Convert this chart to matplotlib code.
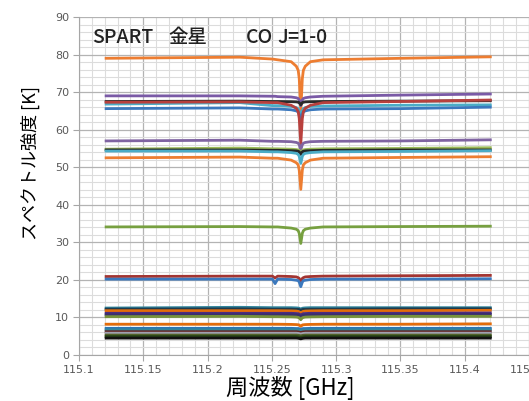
import matplotlib
matplotlib.use("Agg")
import matplotlib.pyplot as plt
from matplotlib.ticker import MultipleLocator

plt.rcParams['font.family'] = ['Noto Sans CJK JP', 'DejaVu Sans']

# frequency sample points [GHz]
freq = [115.120, 115.225, 115.2505, 115.2525, 115.2545, 115.265, 115.269, 115.2705, 115.2713,
        115.2725, 115.2737, 115.2745, 115.276, 115.280, 115.290, 115.350, 115.421]

# spectra [K] at the points above
orange_79 = [79.0, 79.3, 78.8, 78.7, 78.6, 78.1, 76.9, 75.8, 73.6, 64.9, 73.6, 75.8, 76.9, 78.1, 78.6, 79.0, 79.4]
purple_69 = [69.0, 69.0, 68.9, 68.9, 68.8, 68.7, 68.5, 68.3, 67.9, 66.4, 67.9, 68.3, 68.5, 68.7, 68.9, 69.2, 69.5]
black_68 = [67.5, 67.6, 67.5, 67.5, 67.5, 67.45, 67.4, 67.3, 67.2, 66.6, 67.2, 67.3, 67.4, 67.45, 67.5, 67.6, 67.7]
red_67 = [67.3, 67.4, 67.2, 67.2, 67.2, 66.5, 65.7, 64.8, 63.0, 56.2, 63.0, 64.8, 65.7, 66.5, 67.2, 67.5, 67.9]
cyan_67 = [66.8, 67.2, 66.4, 66.4, 66.4, 66.2, 65.9, 65.6, 65.0, 62.8, 65.0, 65.6, 65.9, 66.2, 66.3, 66.5, 66.6]
blue_66 = [65.6, 65.8, 65.5, 65.5, 65.5, 65.3, 65.0, 64.7, 64.1, 61.7, 64.1, 64.7, 65.0, 65.3, 65.5, 65.6, 66.0]
purple_57 = [57.0, 57.2, 56.9, 56.9, 56.9, 56.8, 56.6, 56.4, 56.0, 54.6, 56.0, 56.4, 56.6, 56.8, 56.9, 57.0, 57.3]
green_55 = [54.8, 55.1, 54.9, 54.9, 54.9, 54.8, 54.7, 54.6, 54.4, 53.7, 54.4, 54.6, 54.7, 54.8, 54.9, 55.0, 55.2]
black_55 = [54.6, 54.6, 54.5, 54.5, 54.5, 54.4, 54.35, 54.25, 54.1, 53.4, 54.1, 54.25, 54.35, 54.4, 54.5, 54.6, 54.6]
cyan_54 = [54.3, 54.3, 54.1, 54.1, 54.1, 53.9, 53.7, 53.4, 52.9, 51.0, 52.9, 53.4, 53.7, 53.9, 54.1, 54.2, 54.4]
orange_53 = [52.5, 52.7, 52.4, 52.4, 52.4, 51.9, 51.2, 50.6, 49.2, 44.1, 49.2, 50.6, 51.2, 51.9, 52.4, 52.6, 52.8]
olive_34 = [34.1, 34.2, 34.1, 34.1, 34.1, 33.8, 33.5, 33.1, 32.4, 29.7, 32.4, 33.1, 33.5, 33.8, 34.1, 34.2, 34.3]
red_21 = [20.9, 21.0, 21.0, 20.5, 21.0, 20.9, 20.8, 20.6, 20.4, 19.3, 20.4, 20.6, 20.8, 20.9, 21.0, 21.1, 21.2]
blue_20 = [20.2, 20.2, 20.2, 19.0, 20.2, 20.1, 19.9, 19.8, 19.4, 18.2, 19.4, 19.8, 19.9, 20.1, 20.2, 20.2, 20.3]
teal_13 = [12.5, 12.7, 12.6, 12.6, 12.6, 12.6, 12.55, 12.5, 12.45, 12.2, 12.45, 12.5, 12.55, 12.6, 12.6, 12.6, 12.6]
dark_12 = [12.2, 12.3, 12.2, 12.2, 12.2, 12.2, 12.15, 12.15, 12.1, 11.9, 12.1, 12.15, 12.15, 12.2, 12.2, 12.3, 12.3]
orange_12 = [11.8, 11.8, 11.8, 11.8, 11.8, 11.75, 11.7, 11.6, 11.5, 10.9, 11.5, 11.6, 11.7, 11.75, 11.8, 11.8, 11.9]
purple_11 = [11.1, 11.1, 11.1, 11.1, 11.1, 11.1, 11.05, 11.0, 10.9, 10.6, 10.9, 11.0, 11.05, 11.1, 11.1, 11.1, 11.2]
navy_11 = [10.7, 10.7, 10.7, 10.7, 10.7, 10.7, 10.65, 10.6, 10.5, 10.2, 10.5, 10.6, 10.65, 10.7, 10.7, 10.7, 10.8]
green_10 = [10.2, 10.3, 10.2, 10.2, 10.2, 10.15, 10.1, 10.0, 9.9, 9.4, 9.9, 10.0, 10.1, 10.15, 10.2, 10.3, 10.3]
orange_8 = [8.2, 8.2, 8.2, 8.2, 8.2, 8.15, 8.1, 8.05, 8.0, 7.6, 8.0, 8.05, 8.1, 8.15, 8.2, 8.2, 8.3]
blue_7 = [7.1, 7.1, 7.1, 7.1, 7.1, 7.1, 7.05, 7.05, 7.0, 6.8, 7.0, 7.05, 7.05, 7.1, 7.1, 7.1, 7.1]
teal_7 = [6.7, 6.7, 6.7, 6.7, 6.7, 6.7, 6.7, 6.65, 6.6, 6.4, 6.6, 6.65, 6.7, 6.7, 6.7, 6.7, 6.7]
brown_6 = [6.2, 6.2, 6.2, 6.2, 6.2, 6.2, 6.2, 6.15, 6.1, 6.0, 6.1, 6.15, 6.2, 6.2, 6.2, 6.2, 6.2]
gray_6 = [5.8, 5.8, 5.8, 5.8, 5.8, 5.8, 5.8, 5.75, 5.7, 5.6, 5.7, 5.75, 5.8, 5.8, 5.8, 5.8, 5.8]
green_5 = [5.3, 5.3, 5.3, 5.3, 5.3, 5.3, 5.3, 5.25, 5.2, 5.1, 5.2, 5.25, 5.3, 5.3, 5.3, 5.3, 5.3]
dgreen_5 = [4.9, 4.9, 4.9, 4.9, 4.9, 4.9, 4.9, 4.85, 4.8, 4.7, 4.8, 4.85, 4.9, 4.9, 4.9, 4.9, 4.9]
black_4 = [4.5, 4.5, 4.5, 4.5, 4.5, 4.5, 4.5, 4.45, 4.4, 4.3, 4.4, 4.45, 4.5, 4.5, 4.5, 4.5, 4.5]

series = [
    (orange_79, '#ED7D31'), (purple_69, '#7A5AA6'), (black_68, '#2B2B2B'),
    (cyan_67, '#4BACC6'), (blue_66, '#3B78BD'), (red_67, '#B8403D'),
    (purple_57, '#8064A2'), (green_55, '#9BBB59'), (black_55, '#262626'),
    (cyan_54, '#4BACC6'), (orange_53, '#ED7D31'), (olive_34, '#77A040'),
    (red_21, '#A33532'), (blue_20, '#3B78BD'),
    (teal_13, '#31859C'), (dark_12, '#1F3B4D'), (orange_12, '#E46C0A'),
    (purple_11, '#4B2D7F'), (navy_11, '#3A2E6E'), (green_10, '#77933C'),
    (orange_8, '#E46C0A'), (blue_7, '#2E75B6'), (teal_7, '#31859C'),
    (brown_6, '#632523'), (gray_6, '#A0A0B0'), (green_5, '#4F6228'),
    (dgreen_5, '#254117'), (black_4, '#111111'),
]

fig = plt.figure(figsize=(5.29, 4.01), dpi=100)
ax = fig.add_axes([79 / 529, 46 / 401, 450 / 529, 338 / 401])

for vals, col in series:
    ax.plot(freq, vals, color=col, lw=2.0, solid_capstyle='butt', solid_joinstyle='round')

ax.set_xlim(115.1, 115.45)
ax.set_ylim(0, 90)
ax.xaxis.set_major_locator(MultipleLocator(0.05))
ax.xaxis.set_minor_locator(MultipleLocator(0.01))
ax.yaxis.set_major_locator(MultipleLocator(10))
ax.yaxis.set_minor_locator(MultipleLocator(2))
ax.set_xticks([115.1, 115.15, 115.2, 115.25, 115.3, 115.35, 115.4, 115.45])
ax.set_xticklabels(['115.1', '115.15', '115.2', '115.25', '115.3', '115.35', '115.4', '115.45'])
ax.grid(which='major', color='#b3b3b3', lw=0.9)
ax.grid(which='minor', color='#dcdcdc', lw=0.8)
ax.set_axisbelow(True)

for s in ['top', 'right']:
    ax.spines[s].set_visible(False)
for s in ['left', 'bottom']:
    ax.spines[s].set_color('#a6a6a6')
ax.tick_params(which='major', length=4, color='#a6a6a6', labelcolor='#595959',
               labelsize=8, pad=3)
ax.tick_params(which='minor', length=0)
for lab in ax.get_xticklabels() + ax.get_yticklabels():
    lab.set_family('DejaVu Sans')

ax.set_xlabel('周波数 [GHz]', fontsize=16, va='center')
ax.xaxis.set_label_coords(0.469, -0.097)
ax.set_ylabel('スペクトル強度 [K]', fontsize=13, va='center')
ax.yaxis.set_label_coords(-0.107, 0.568)

# title inside the plot, with italic J
fig.canvas.draw()
r = fig.canvas.get_renderer()
yb = (401 - 43) / 401
for txt, xp in [('SPART', 92), ('金星', 168), ('CO', 246)]:
    t = fig.text(xp / 529, yb, txt, fontsize=14, weight='medium', color='#222222',
                 va='baseline', ha='left')
x0 = 277
for txt, st in [('J', 'italic'), ('=1-0', 'normal')]:
    t = fig.text(x0 / 529, yb, txt, fontsize=14, weight='medium', style=st,
                 color='#222222', va='baseline', ha='left')
    x0 = t.get_window_extent(r).x1

fig.savefig('out.png', dpi=100)
